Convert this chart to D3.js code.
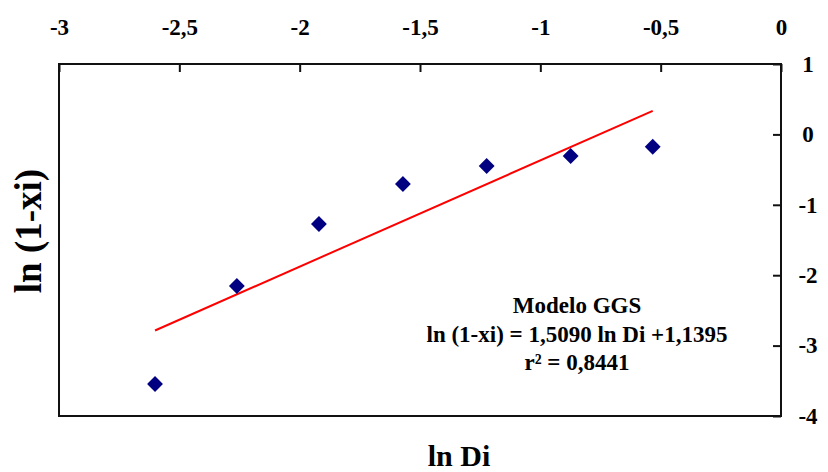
<!DOCTYPE html>
<html>
<head>
<meta charset="utf-8">
<script src="https://cdn.jsdelivr.net/npm/d3@7"></script>
<style>
  body { margin: 0; background: #fff; }
</style>
</head>
<body>
<div id="vis"></div>
<script>
// chart size
const FRAME_WIDTH = 828;
const FRAME_HEIGHT = 472;
const PLOT = {left: 59, right: 781, top: 64, bottom: 416};
const FONT = "'Liberation Serif', 'Times New Roman', serif";

// data
const LN_DI = [-2.601, -2.261, -1.920, -1.571, -1.223, -0.874, -0.533];
const LN_1_XI = [-3.545, -2.153, -1.273, -0.705, -0.449, -0.307, -0.175];

// fitted model
const SLOPE = 1.5090;
const INTERCEPT = 1.1395;
const MODEL_TEXT = ["Modelo GGS", "ln (1-xi) = 1,5090 ln Di +1,1395", "r² = 0,8441"];

// ticks
const X_TICKS = [-3, -2.5, -2, -1.5, -1, -0.5, 0];
const Y_TICKS = [1, 0, -1, -2, -3, -4];

const comma = (d) => String(d).replace(".", ",");

const FRAME = d3.select("#vis")
  .append("svg")
    .attr("width", FRAME_WIDTH)
    .attr("height", FRAME_HEIGHT)
    .attr("font-family", FONT)
    .attr("font-weight", "bold");

const X_SCALE = d3.scaleLinear().domain([-3, 0]).range([PLOT.left, PLOT.right]);
const Y_SCALE = d3.scaleLinear().domain([-4, 1]).range([PLOT.bottom, PLOT.top]);

// plot box
FRAME.append("rect")
  .attr("x", PLOT.left)
  .attr("y", PLOT.top)
  .attr("width", PLOT.right - PLOT.left)
  .attr("height", PLOT.bottom - PLOT.top)
  .attr("fill", "none")
  .attr("stroke", "#111")
  .attr("stroke-width", 2);

// top axis, ticks pointing inward
const xAxis = FRAME.append("g")
  .attr("transform", "translate(0," + PLOT.top + ")")
  .call(d3.axisTop(X_SCALE).tickValues(X_TICKS).tickFormat(comma)
          .tickSizeInner(-8).tickSizeOuter(0).tickPadding(29));
xAxis.attr("font-family", FONT).attr("font-size", 23);
xAxis.select(".domain").remove();
xAxis.selectAll(".tick line").attr("stroke", "#111").attr("stroke-width", 2);
xAxis.selectAll(".tick text").attr("fill", "#000");

// right axis
const yAxis = FRAME.append("g")
  .attr("transform", "translate(" + PLOT.right + ",0)")
  .call(d3.axisRight(Y_SCALE).tickValues(Y_TICKS).tickFormat(comma)
          .tickSizeInner(-8).tickSizeOuter(0).tickPadding(27));
yAxis.attr("font-family", FONT).attr("font-size", 23);
yAxis.select(".domain").remove();
yAxis.selectAll(".tick line").attr("stroke", "#111").attr("stroke-width", 2);
yAxis.selectAll(".tick text")
  .attr("fill", "#000")
  .attr("text-anchor", "middle");

// trend line over the data range
const xMin = d3.min(LN_DI), xMax = d3.max(LN_DI);
FRAME.append("line")
  .attr("x1", X_SCALE(xMin))
  .attr("y1", Y_SCALE(SLOPE * xMin + INTERCEPT))
  .attr("x2", X_SCALE(xMax))
  .attr("y2", Y_SCALE(SLOPE * xMax + INTERCEPT))
  .attr("stroke", "#ff0000")
  .attr("stroke-width", 2);

// diamond markers
const points = LN_DI.map((x, i) => ({x: x, y: LN_1_XI[i]}));
FRAME.selectAll(".point")
  .data(points)
  .enter()
  .append("path")
    .attr("class", "point")
    .attr("d", d3.symbol().type(d3.symbolDiamond2).size(160))
    .attr("transform", (d) => "translate(" + X_SCALE(d.x) + "," + Y_SCALE(d.y) + ")")
    .attr("fill", "#000080");

// model annotation
FRAME.append("g")
  .selectAll("text")
  .data(MODEL_TEXT)
  .enter()
  .append("text")
    .attr("x", 577)
    .attr("y", (d, i) => 313 + i * 28.5)
    .attr("text-anchor", "middle")
    .attr("font-size", 23)
    .text((d) => d);

// axis titles
FRAME.append("text")
  .attr("x", 459)
  .attr("y", 466)
  .attr("text-anchor", "middle")
  .attr("font-size", 30)
  .text("ln Di");

FRAME.append("text")
  .attr("transform", "translate(41,231) rotate(-90)")
  .attr("text-anchor", "middle")
  .attr("font-size", 37)
  .text("ln (1-xi)");
</script>
</body>
</html>
